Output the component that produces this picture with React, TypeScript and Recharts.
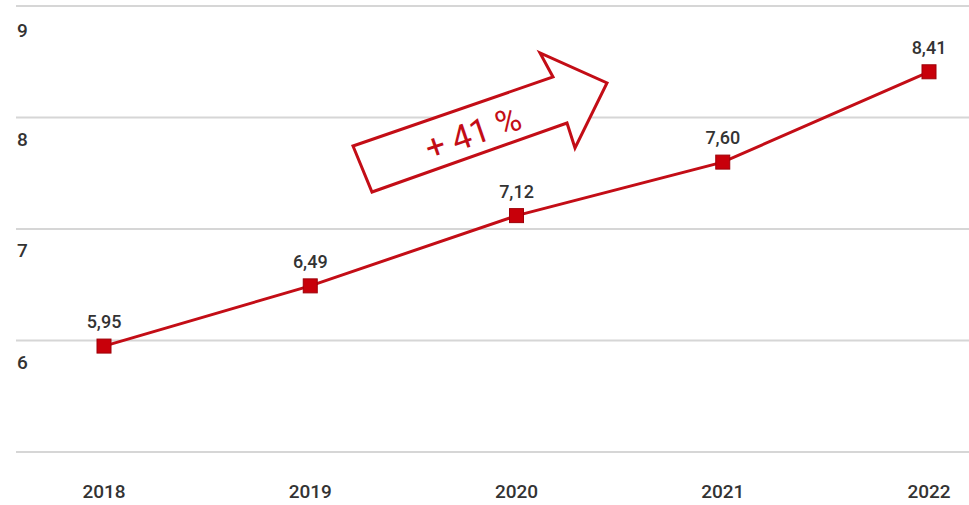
import { LineChart, Line, XAxis, YAxis, CartesianGrid, Customized } from 'recharts'

const years = ['2018', '2019', '2020', '2021', '2022']
const values = [5.95, 6.49, 7.12, 7.6, 8.41]
const yTicks = [5, 6, 7, 8, 9]
const growthLabel = '+ 41 %'

const data = years.map((year, i) => ({ year, value: values[i] }))

const RED = '#c30d16'
const TEXT = '#333333'
const FONT = 'Roboto, "Noto Sans", sans-serif'

const fmt = (v: number) => v.toFixed(2).replace('.', ',')

const YTick = ({ x, y, payload }: any) => {
  if (payload.value === 5) return null
  return (
    <text x={x + 1} y={y + 28} fill={TEXT} fontSize={19} fontWeight={500} fontFamily={FONT} textAnchor="start">
      {payload.value}
    </text>
  )
}

const XTick = ({ x, y, payload }: any) => (
  <text x={x} y={y + 38} fill={TEXT} fontSize={19} fontWeight={500} fontFamily={FONT} textAnchor="middle">
    {payload.value}
  </text>
)

const SquareDot = ({ cx, cy }: any) => (
  <rect x={cx - 7} y={cy - 7} width={14} height={14} fill="#c8000a" stroke="#9e0008" strokeWidth={1} />
)

const ValueLabel = ({ x, y, value }: any) => (
  <text x={x} y={y - 18} fill={TEXT} fontSize={18} fontWeight={500} fontFamily={FONT} textAnchor="middle">
    {fmt(value)}
  </text>
)

// outlined growth arrow drawn over the plot
const GrowthArrow = () => (
  <g>
    <polygon
      points="353,146 553,77 540,53 607,83 575,148 567,123 372,192"
      fill="#fff"
      stroke={RED}
      strokeWidth={3}
      strokeLinejoin="miter"
    />
    <text
      x={473}
      y={145}
      fill={RED}
      fontSize={34}
      fontFamily={FONT}
      textAnchor="middle"
      transform="rotate(-19 473 133)"
    >
      {growthLabel}
    </text>
  </g>
)

export default function App() {
  return (
    <div style={{ position: 'fixed', left: 0, top: 0, background: '#fff' }}>
      <LineChart width={969} height={505} data={data} margin={{ top: 6, right: 0, bottom: 0, left: 0 }}>
        <CartesianGrid vertical={false} stroke="#d6d6d6" strokeWidth={2} />
        <XAxis
          dataKey="year"
          height={53}
          axisLine={false}
          tickLine={false}
          padding={{ left: 88, right: 40 }}
          tick={<XTick />}
        />
        <YAxis
          domain={[5, 9]}
          ticks={yTicks}
          width={16}
          axisLine={false}
          tickLine={false}
          tickSize={0}
          tickMargin={0}
          tick={<YTick />}
        />
        <Customized component={GrowthArrow} />
        <Line
          type="linear"
          dataKey="value"
          stroke={RED}
          strokeWidth={3}
          dot={<SquareDot />}
          activeDot={false}
          label={<ValueLabel />}
          isAnimationActive={false}
        />
      </LineChart>
    </div>
  )
}
